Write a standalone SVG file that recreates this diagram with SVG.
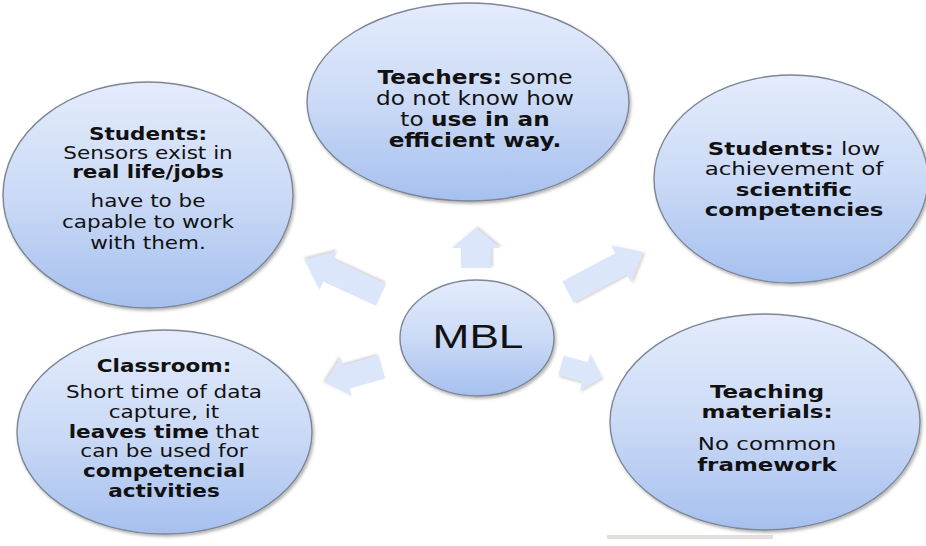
<svg xmlns="http://www.w3.org/2000/svg" width="926" height="546" viewBox="0 0 926 546">
<defs>
<linearGradient id="gEll" x1="0" y1="0" x2="0" y2="1">
<stop offset="0" stop-color="#e4ecfc"/>
<stop offset="0.5" stop-color="#cbdaf6"/>
<stop offset="1" stop-color="#a6c0ef"/>
</linearGradient>
<filter id="sh" x="-10%" y="-10%" width="125%" height="125%">
<feDropShadow dx="1.5" dy="2" stdDeviation="1.5" flood-color="#000" flood-opacity="0.3"/>
</filter>
<filter id="shA" x="-20%" y="-20%" width="150%" height="150%">
<feDropShadow dx="1.5" dy="2" stdDeviation="1.2" flood-color="#556" flood-opacity="0.25"/>
</filter>
</defs>
<style>
.ell{fill:url(#gEll);stroke:#7d8694;stroke-width:1.4;filter:url(#sh)}
.arr{fill:#dbe6fa;filter:url(#shA)}
.t{font-family:"DejaVu Sans","Liberation Sans",sans-serif;fill:#111;text-anchor:middle}
.b{font-weight:bold}
.mbl{font-family:"Liberation Sans","Open Sans",sans-serif;font-size:34px;fill:#111;text-anchor:middle}
</style>
<rect width="926" height="546" fill="#ffffff"/>
<rect x="607" y="535" width="166" height="4" fill="#d6d1cc" opacity="0.7"/>
<g id="connectors">
<polygon class="arr" transform="translate(381 295) rotate(204.7)" points="0,-12 58,-12 58,-21 84,0 58,21 58,12 0,12"/>
<polygon class="arr" transform="translate(476 268) rotate(-90)" points="0,-15 20,-15 20,-24 40,0 20,24 20,15 0,15"/>
<polygon class="arr" transform="translate(568 292) rotate(-28.1)" points="0,-12 60,-12 60,-21 85,0 60,21 60,12 0,12"/>
<polygon class="arr" transform="translate(382 367) rotate(164.3)" points="0,-12 37,-12 37,-20 59,0 37,20 37,12 0,12"/>
<polygon class="arr" transform="translate(561 365) rotate(16)" points="0,-10 25,-10 25,-19 43,0 25,19 25,10 0,10"/>
</g>
<g id="node-students-left">
<ellipse class="ell" cx="148" cy="195" rx="145" ry="113"/>
<g transform="translate(148 0) scale(1.23 1)">
<text class="t" font-size="17.5"><tspan class="b" x="0" y="140">Students:</tspan><tspan x="0" y="159">Sensors exist in</tspan><tspan class="b" x="0" y="178">real life/jobs</tspan><tspan x="0" y="207">have to be</tspan><tspan x="0" y="228">capable to work</tspan><tspan x="0" y="249">with them.</tspan></text>
</g>
</g>
<g id="node-teachers">
<ellipse class="ell" cx="468" cy="102" rx="161" ry="99"/>
<g transform="translate(475 0) scale(1.22 1)">
<text class="t" font-size="19"><tspan x="0" y="84"><tspan class="b">Teachers:</tspan> some</tspan><tspan x="0" y="105">do not know how</tspan><tspan x="0" y="126">to <tspan class="b">use in an</tspan></tspan><tspan class="b" x="0" y="147">efficient way.</tspan></text>
</g>
</g>
<g id="node-students-right">
<ellipse class="ell" cx="791" cy="179" rx="137" ry="104"/>
<g transform="translate(794 0) scale(1.24 1)">
<text class="t" font-size="18.5"><tspan x="0" y="155"><tspan class="b">Students:</tspan> low</tspan><tspan x="0" y="175">achievement of</tspan><tspan class="b" x="0" y="196">scientific</tspan><tspan class="b" x="0" y="216">competencies</tspan></text>
</g>
</g>
<g id="node-classroom">
<ellipse class="ell" cx="164.5" cy="432" rx="147.5" ry="102"/>
<g transform="translate(164 0) scale(1.23 1)">
<text class="t" font-size="17.5"><tspan class="b" x="0" y="372">Classroom:</tspan><tspan x="0" y="398">Short time of data</tspan><tspan x="0" y="418">capture, it</tspan><tspan x="0" y="438"><tspan class="b">leaves time</tspan> that</tspan><tspan x="0" y="457">can be used for</tspan><tspan class="b" x="0" y="477">competencial</tspan><tspan class="b" x="0" y="497">activities</tspan></text>
</g>
</g>
<g id="node-materials">
<ellipse class="ell" cx="765" cy="422" rx="155" ry="108"/>
<g transform="translate(767 0) scale(1.24 1)">
<text class="t" font-size="18.5"><tspan class="b" x="0" y="398">Teaching</tspan><tspan class="b" x="0" y="418">materials:</tspan><tspan x="0" y="450">No common</tspan><tspan class="b" x="0" y="471">framework</tspan></text>
</g>
</g>
<g id="node-mbl">
<ellipse class="ell" cx="477" cy="338" rx="77" ry="58"/>
<g transform="translate(478 0) scale(1.3 1)">
<text class="mbl" x="0" y="348">MBL</text>
</g>
</g>
</svg>
